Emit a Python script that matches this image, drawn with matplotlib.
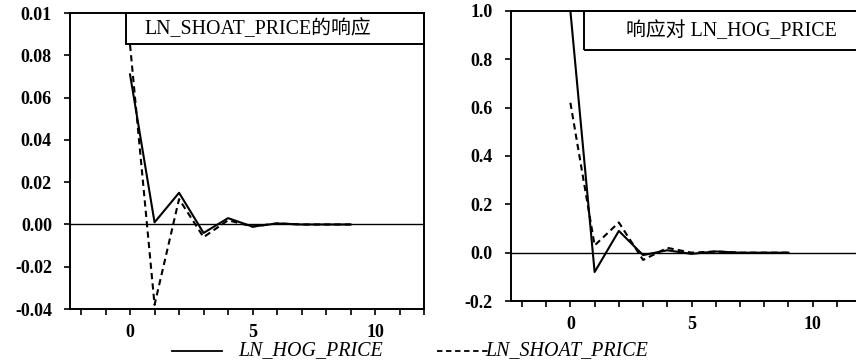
import matplotlib
matplotlib.use("Agg")
from matplotlib import pyplot as plt
from matplotlib.patches import Rectangle
from matplotlib.lines import Line2D

periods = [0, 1, 2, 3, 4, 5, 6, 7, 8, 9]

# response of LN_SHOAT_PRICE
shoat_to_hog = [0.071, 0.001, 0.015, -0.004, 0.003, -0.001, 0.0005, 0.0, 0.0, 0.0]
shoat_to_shoat = [0.085, -0.038, 0.012, -0.006, 0.002, -0.001, 0.0005, 0.0, 0.0, 0.0]

# response of LN_HOG_PRICE / LN_SHOAT_PRICE to LN_HOG_PRICE
hog_to_hog = [1.0, -0.08, 0.09, -0.01, 0.01, -0.005, 0.005, 0.0, 0.0, 0.0]
shoatr_to_hog = [0.62, 0.03, 0.125, -0.03, 0.02, 0.0, 0.005, 0.0, 0.0, 0.0]

left_yticks = [-0.04, -0.02, 0.0, 0.02, 0.04, 0.06, 0.08, 0.10]
left_ylabels = ["-0.04", "-0.02", "0.00", "0.02", "0.04", "0.06", "0.08", "0.01"]
right_yticks = [-0.2, 0.0, 0.2, 0.4, 0.6, 0.8, 1.0]
right_ylabels = ["-0.2", "0.0", "0.2", "0.4", "0.6", "0.8", "1.0"]

serif = ["Liberation Serif", "Noto Sans CJK SC"]
dash = (0, (3, 2))

fig = plt.figure(figsize=(8.56, 3.64), dpi=100)
ax1 = fig.add_axes([0.0818, 0.151, 0.4136, 0.813])
ax2 = fig.add_axes([0.597, 0.173, 0.409, 0.797])


def style(ax, yticks, ylabels, ylim):
    ax.set_xlim(-2.45, 12)
    ax.set_ylim(*ylim)
    ax.axhline(0, color="black", lw=1.0)
    ax.set_xticks(range(-2, 13))
    ax.set_xticklabels(["" if i not in (0, 5, 10) else str(i) for i in range(-2, 13)])
    ax.set_yticks(yticks)
    ax.set_yticklabels(ylabels)
    ax.tick_params(axis="y", direction="out", length=4, width=1.2, pad=9)
    ax.tick_params(axis="x", direction="out", length=4, width=1.2, pad=7)
    for lab in ax.get_xticklabels() + ax.get_yticklabels():
        lab.set_fontfamily(serif)
        lab.set_fontweight("bold")
        lab.set_fontsize(13)
    for s in ax.spines.values():
        s.set_linewidth(1.4)


ax1.plot(periods, shoat_to_hog, color="black", lw=1.5)
ax1.plot(periods, shoat_to_shoat, color="black", lw=1.5, linestyle=dash)
style(ax1, left_yticks, left_ylabels, (-0.04, 0.10))
ax1.add_patch(Rectangle((0.158, 0.895), 0.842, 0.105, transform=ax1.transAxes,
                        fill=False, lw=1.4, ec="black", clip_on=False))
ax1.text(0.53, 0.945, "LN_SHOAT_PRICE的响应", transform=ax1.transAxes,
         ha="center", va="center", fontsize=14.3, family=serif)

ax2.plot(periods, hog_to_hog, color="black", lw=1.5)
ax2.plot(periods, shoatr_to_hog, color="black", lw=1.5, linestyle=dash)
style(ax2, right_yticks, right_ylabels, (-0.2, 1.0))
ax2.add_patch(Rectangle((0.209, 0.866), 0.791, 0.134, transform=ax2.transAxes,
                        fill=False, lw=1.4, ec="black", clip_on=False))
ax2.text(0.63, 0.93, "响应对 LN_HOG_PRICE", transform=ax2.transAxes,
         ha="center", va="center", fontsize=14.3, family=serif)

# legend at the bottom
fig.add_artist(Line2D([172 / 856, 222 / 856], [1 - 351 / 364] * 2, color="black", lw=1.3))
fig.text(238 / 856, 1 - 351 / 364, "LN_HOG_PRICE", ha="left", va="center",
         fontsize=14.4, family=serif, style="italic")
fig.add_artist(Line2D([437 / 856, 490 / 856], [1 - 351 / 364] * 2, color="black", lw=1.3,
                      linestyle=(0, (3, 2))))
fig.text(485 / 856, 1 - 351 / 364, "LN_SHOAT_PRICE", ha="left", va="center",
         fontsize=14.4, family=serif, style="italic")

fig.savefig("out.png", dpi=100)
